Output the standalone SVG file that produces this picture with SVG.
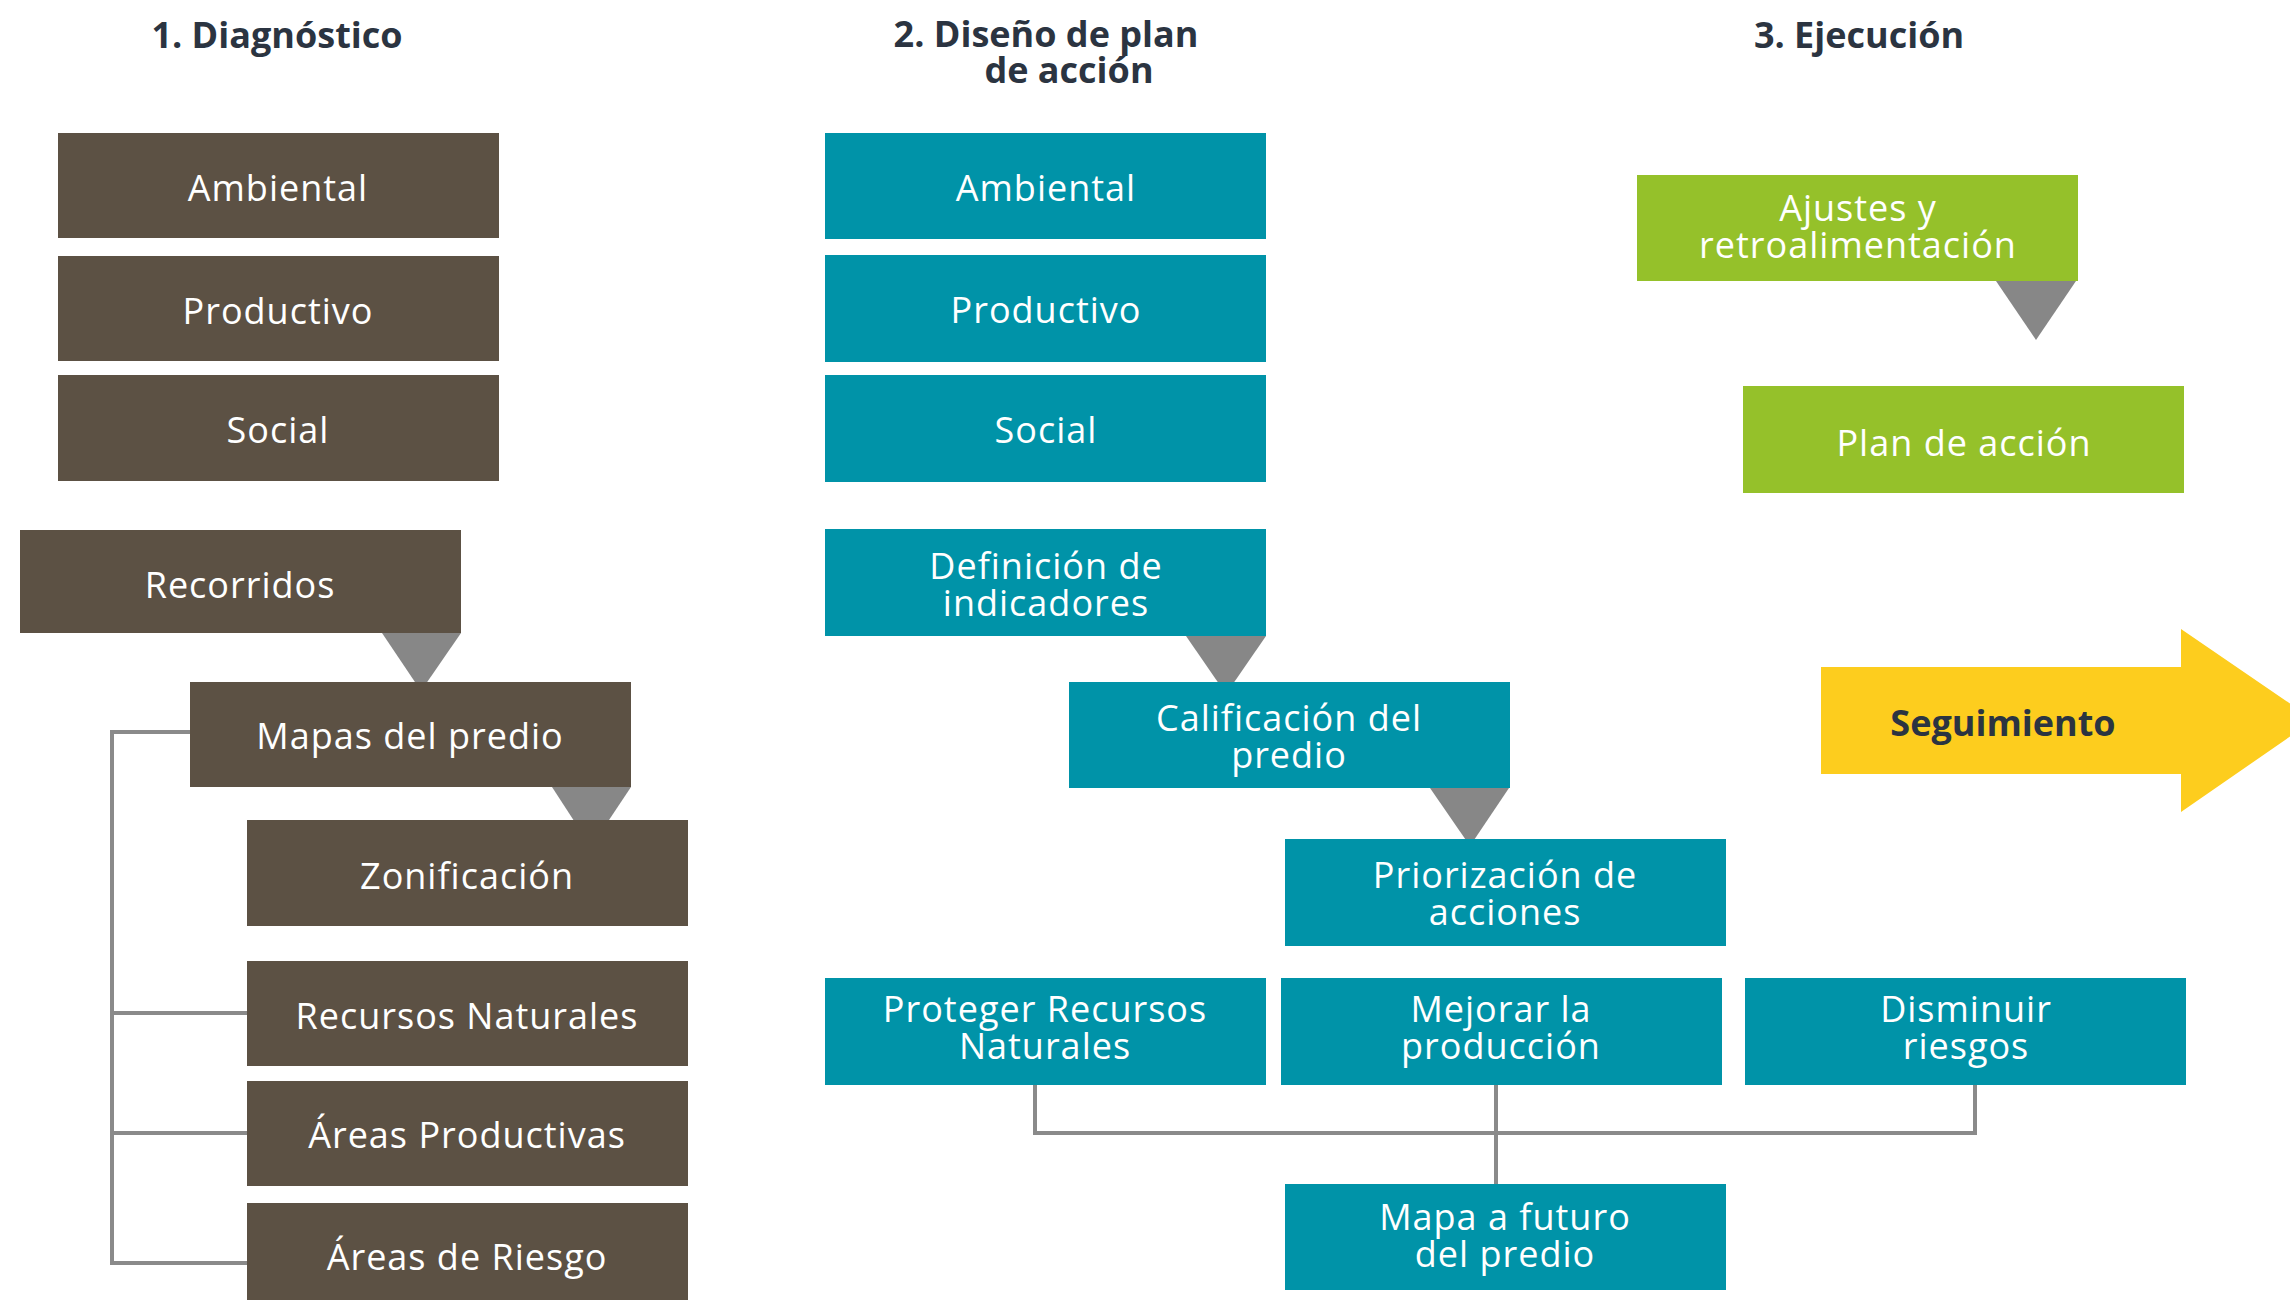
<svg xmlns="http://www.w3.org/2000/svg" width="2290" height="1300" viewBox="0 0 2290 1300">
<style>
.brown{fill:#5c5144}
.teal{fill:#0093a8}
.green{fill:#95c12a}
.tri{fill:#878787}
.t{font-family:"Open Sans","Liberation Sans",sans-serif;font-size:36px;letter-spacing:1px;fill:#ffffff;text-anchor:middle}
.h{font-family:"Open Sans","Liberation Sans",sans-serif;font-size:36px;font-weight:bold;fill:#2b3441;text-anchor:middle}
.ln{fill:none;stroke:#8a8a8a;stroke-width:4}
</style>
<rect width="2290" height="1300" fill="#ffffff"/>
<g id="titles">
<text class="h" x="277" y="48">1. Diagnóstico</text>
<text class="h" x="1046" y="47">2. Diseño de plan</text>
<text class="h" x="1069" y="83">de acción</text>
<text class="h" x="1859" y="48">3. Ejecución</text>
</g>
<g id="connectors">
<path class="ln" d="M190 732 H112 V1263 H248 M112 1013 H248 M112 1133 H248"/>
<path class="ln" d="M1035 1085 V1133 H1975 V1085 M1496 1085 V1184"/>
<polygon class="tri" points="382,633 461,633 421,691"/>
<polygon class="tri" points="552,787 631,787 591,847"/>
<polygon class="tri" points="1186,636 1266,636 1226,694"/>
<polygon class="tri" points="1430,788 1509,788 1470,846"/>
<polygon class="tri" points="1996,281 2076,281 2036,340"/>
</g>
<g id="d-ambiental"><rect class="brown" x="58" y="133" width="441" height="105"/><text class="t" x="278" y="201">Ambiental</text></g>
<g id="d-productivo"><rect class="brown" x="58" y="256" width="441" height="105"/><text class="t" x="278" y="324">Productivo</text></g>
<g id="d-social"><rect class="brown" x="58" y="375" width="441" height="106"/><text class="t" x="278" y="443">Social</text></g>
<g id="d-recorridos"><rect class="brown" x="20" y="530" width="441" height="103"/><text class="t" x="240" y="598">Recorridos</text></g>
<g id="d-mapas"><rect class="brown" x="190" y="682" width="441" height="105"/><text class="t" x="410" y="749">Mapas del predio</text></g>
<g id="d-zonificacion"><rect class="brown" x="247" y="820" width="441" height="106"/><text class="t" x="467" y="889">Zonificación</text></g>
<g id="d-recursos"><rect class="brown" x="247" y="961" width="441" height="105"/><text class="t" x="467" y="1029">Recursos Naturales</text></g>
<g id="d-areasprod"><rect class="brown" x="247" y="1081" width="441" height="105"/><text class="t" x="467" y="1148">Áreas Productivas</text></g>
<g id="d-areasriesgo"><rect class="brown" x="247" y="1203" width="441" height="105"/><text class="t" x="467" y="1270">Áreas de Riesgo</text></g>

<g id="p-ambiental"><rect class="teal" x="825" y="133" width="441" height="106"/><text class="t" x="1046" y="201">Ambiental</text></g>
<g id="p-productivo"><rect class="teal" x="825" y="255" width="441" height="107"/><text class="t" x="1046" y="323">Productivo</text></g>
<g id="p-social"><rect class="teal" x="825" y="375" width="441" height="107"/><text class="t" x="1046" y="443">Social</text></g>
<g id="p-definicion"><rect class="teal" x="825" y="529" width="441" height="107"/><text class="t" x="1046" y="579">Definición de</text><text class="t" x="1046" y="616">indicadores</text></g>
<g id="p-calificacion"><rect class="teal" x="1069" y="682" width="441" height="106"/><text class="t" x="1289" y="731">Calificación del</text><text class="t" x="1289" y="768">predio</text></g>
<g id="p-priorizacion"><rect class="teal" x="1285" y="839" width="441" height="107"/><text class="t" x="1505" y="888">Priorización de</text><text class="t" x="1505" y="925">acciones</text></g>
<g id="p-proteger"><rect class="teal" x="825" y="978" width="441" height="107"/><text class="t" x="1045" y="1022">Proteger Recursos</text><text class="t" x="1045" y="1059">Naturales</text></g>
<g id="p-mejorar"><rect class="teal" x="1281" y="978" width="441" height="107"/><text class="t" x="1501" y="1022">Mejorar la</text><text class="t" x="1501" y="1059">producción</text></g>
<g id="p-disminuir"><rect class="teal" x="1745" y="978" width="441" height="107"/><text class="t" x="1966" y="1022">Disminuir</text><text class="t" x="1966" y="1059">riesgos</text></g>
<g id="p-mapa"><rect class="teal" x="1285" y="1184" width="441" height="106"/><text class="t" x="1505" y="1230">Mapa a futuro</text><text class="t" x="1505" y="1267">del predio</text></g>

<g id="e-ajustes"><rect class="green" x="1637" y="175" width="441" height="106"/><text class="t" x="1858" y="221">Ajustes y</text><text class="t" x="1858" y="258">retroalimentación</text></g>
<g id="e-plan"><rect class="green" x="1743" y="386" width="441" height="107"/><text class="t" x="1964" y="456">Plan de acción</text></g>
<g id="e-seguimiento"><polygon fill="#fdcd1e" points="1821,667 2181,667 2181,629 2314,720 2181,812 2181,774 1821,774"/><text class="h" x="2003" y="736">Seguimiento</text></g>
</svg>
